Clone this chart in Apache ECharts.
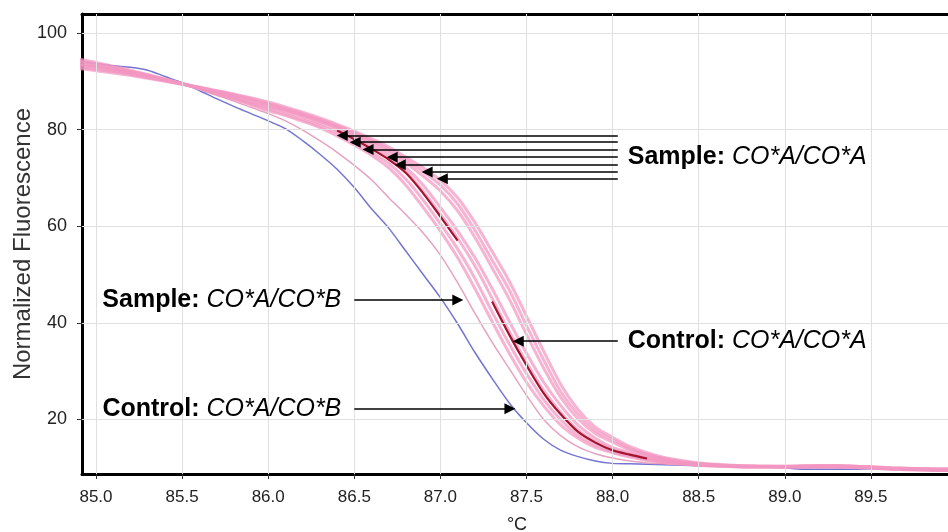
<!DOCTYPE html>
<html>
<head>
<meta charset="utf-8">
<script src="https://cdn.jsdelivr.net/npm/echarts@6/dist/echarts.min.js"></script>
<style>
html,body{margin:0;padding:0;background:#fff;}
#chart{width:948px;height:532px;}
</style>
</head>
<body>
<div id="chart"></div>
<script>
// ---- data ----
var temps = [84.9,85.0,85.1,85.2,85.3,85.4,85.5,85.6,85.7,85.8,85.9,86.0,86.1,86.2,86.3,86.4,86.5,86.6,86.7,86.8,86.9,87.0,87.1,87.2,87.3,87.4,87.5,87.6,87.7,87.8,87.9,88.0,88.1,88.2,88.3,88.4,88.5,88.6,88.7,88.8,88.9,89.0,89.1,89.2,89.3,89.4,89.5,89.6,89.7,89.8,89.9,90.0];

// Control CO*A/CO*B (blue)
var controlAB = [94.1,93.7,93.2,92.9,92.3,91.0,89.7,88.1,86.4,84.8,83.3,81.8,80.2,77.7,74.9,71.8,68.0,63.6,59.6,54.8,50.0,45.2,39.8,33.9,28.5,23.4,19.3,15.9,13.6,12.3,11.4,10.9,10.8,10.7,10.6,10.5,10.4,10.3,10.2,10.1,10.1,10.0,9.7,9.7,9.7,9.7,9.8,9.7,9.6,9.5,9.4,9.3];

// Sample CO*A/CO*B (thin light pink)
var sampleAB = [93.5,93.0,92.4,91.8,91.1,90.3,89.4,88.3,87.1,85.9,84.6,83.3,81.8,79.9,77.7,75.3,72.6,69.6,65.9,62.4,58.6,54.0,48.3,42.0,36.0,30.5,25.0,20.0,16.6,14.3,12.9,12.0,11.4,11.0,10.8,10.6,10.5,10.4,10.3,10.2,10.2,10.2,10.2,10.2,10.2,10.1,10.0,9.8,9.7,9.6,9.5,9.5];

// Sample CO*A/CO*A (seven pink curves)
var sampleAA1 = [94.6,93.9,93.1,92.3,91.4,90.5,89.5,88.5,87.4,86.3,85.1,83.9,82.9,81.7,80.4,78.7,76.8,74.7,72.1,68.5,63.9,59.0,53.5,47.1,40.3,33.7,27.7,22.8,18.8,16.1,14.2,13.1,12.2,11.5,11.1,10.8,10.5,10.3,10.2,10.1,10.1,10.1,10.1,10.1,10.1,10.0,9.9,9.7,9.6,9.5,9.4,9.4];
var sampleAA2 = [94.3,93.6,92.9,92.1,91.3,90.4,89.5,88.5,87.5,86.4,85.3,84.2,83.2,82.0,80.8,79.3,77.4,75.3,73.0,69.7,65.4,60.5,55.3,49.2,42.3,35.6,29.5,24.1,19.9,16.7,14.7,13.3,12.5,11.7,11.2,10.8,10.5,10.4,10.3,10.2,10.2,10.2,10.2,10.2,10.2,10.1,10.0,9.8,9.7,9.6,9.5,9.5];
var sampleAA3 = [94.0,93.4,92.7,92.0,91.2,90.4,89.5,88.6,87.6,86.6,85.6,84.6,83.7,82.5,81.3,79.9,78.2,76.2,74.0,71.3,67.2,62.5,57.5,51.8,45.1,38.2,31.8,26.0,21.4,17.8,15.4,13.8,12.8,12.0,11.4,11.0,10.7,10.5,10.3,10.2,10.2,10.2,10.2,10.3,10.3,10.2,10.1,9.9,9.8,9.7,9.6,9.5];
var sampleAA4 = [93.6,93.1,92.5,91.8,91.1,90.3,89.5,88.6,87.7,86.8,85.8,84.9,84.0,82.9,81.7,80.4,78.7,76.8,74.7,72.1,68.5,63.9,59.0,53.5,47.1,40.3,33.7,27.7,22.8,18.8,16.1,14.2,13.1,12.2,11.6,11.1,10.8,10.5,10.4,10.3,10.2,10.2,10.3,10.3,10.3,10.2,10.1,9.9,9.8,9.7,9.6,9.6];
var sampleAA5 = [93.3,92.8,92.2,91.6,90.9,90.2,89.5,88.7,87.9,87.1,86.2,85.2,84.2,83.1,81.9,80.5,79.0,77.3,75.4,73.1,70.4,67.3,63.2,57.7,51.4,44.9,37.6,30.6,24.5,20.1,17.1,15.3,13.7,12.6,11.8,11.2,10.8,10.5,10.4,10.3,10.3,10.2,10.3,10.4,10.4,10.3,10.1,9.9,9.8,9.7,9.7,9.6];
var sampleAA6 = [92.9,92.5,92.0,91.4,90.8,90.1,89.4,88.7,88.0,87.2,86.4,85.4,84.4,83.3,82.1,80.8,79.3,77.7,75.9,73.7,71.3,68.5,64.6,59.2,53.0,46.8,39.4,32.3,25.7,21.0,17.7,15.8,14.0,12.8,11.9,11.3,10.9,10.6,10.4,10.3,10.3,10.3,10.3,10.4,10.4,10.3,10.2,10.0,9.9,9.8,9.7,9.7];
var sampleAA7 = [92.6,92.2,91.7,91.2,90.6,90.0,89.4,88.8,88.1,87.4,86.6,85.7,84.7,83.6,82.4,81.1,79.7,78.1,76.4,74.3,72.1,69.5,65.9,60.8,54.8,48.6,41.4,34.1,27.2,22.0,18.4,16.3,14.4,13.1,12.1,11.5,11.0,10.7,10.5,10.4,10.3,10.3,10.4,10.4,10.4,10.3,10.2,10.0,9.9,9.8,9.8,9.7];

// Control CO*A/CO*A (dark red, visible part only)
var controlAA = [null,null,null,null,null,null,null,null,null,null,null,null,null,null,null,79.8,78.0,76.0,73.8,71.0,66.8,62.0,57.0,null,44.4,37.5,31.2,25.4,21.0,17.4,15.2,13.6,12.7,11.9,null,null,null,null,null,null,null,null,null,null,null,null,null,null,null,null,null,null];

// Tick values
var xTicks = [85.0,85.5,86.0,86.5,87.0,87.5,88.0,88.5,89.0,89.5];
var yTicks = [20,40,60,80,100];

// Annotation arrows: [start temp, tip temp, level]
var arrowsAA = [[88.03,86.40,78.8],[88.03,86.475,77.4],[88.03,86.55,75.9],[88.03,86.69,74.3],[88.03,86.737,72.7],[88.03,86.893,71.2],[88.03,86.981,69.8]];
var arrowSampleAB = [86.50,87.131,44.7];
var arrowControlAA = [88.03,87.422,36.2];
var arrowControlAB = [86.50,87.434,22.2];

// ---- chart ----
function pairs(vals){ return temps.map(function(t,i){ return [t, vals[i]]; }); }
var FONT = '"Liberation Sans", Arial, sans-serif';
var tipOff = 0.03;
var LBL = 25;
var XMIN = 84.9187, XMAX = 89.971, YMIN = 8.7, YMAX = 103.93;
function arrowLine(a, labelText){
  var dir = a[1] < a[0] ? 1 : -1;
  var item = [{coord:[a[0],a[2]]},{coord:[a[1]+dir*tipOff,a[2]]}];
  if(labelText){
    item[0].label = {show:true, position:'start', distance: dir > 0 ? 10 : 13, formatter: labelText, color:'#000',
      fontFamily: FONT, fontSize: LBL,
      rich:{ b:{fontWeight:'bold', fontSize:LBL, fontFamily:FONT, color:'#000'}, i:{fontStyle:'italic', fontSize:LBL, fontFamily:FONT, color:'#000'} } };
  } else {
    item[0].label = {show:false};
  }
  return item;
}
var arrowData = [];
arrowsAA.forEach(function(a, i){ arrowData.push(arrowLine(a, i===3 ? '{b|Sample:} {i|CO*A/CO*A}' : null)); });
arrowData.push(arrowLine(arrowSampleAB, '{b|Sample:} {i|CO*A/CO*B}'));
arrowData.push(arrowLine(arrowControlAA, '{b|Control:} {i|CO*A/CO*A}'));
arrowData.push(arrowLine(arrowControlAB, '{b|Control:} {i|CO*A/CO*B}'));

var gridData = [];
xTicks.forEach(function(v){ gridData.push({xAxis:v}); });
yTicks.forEach(function(v){ gridData.push({yAxis:v}); });

var pinkThick = {color:'rgba(243,150,192,0.72)', width:3};
function pinkSeries(vals){
  return {type:'line', data:pairs(vals), showSymbol:false, smooth:0.3, lineStyle:pinkThick, z:3, silent:true};
}
var axisBlack = {show:true, onZero:false, lineStyle:{color:'#000', width:3}};

var chart = echarts.init(document.getElementById('chart'), null, {renderer:'canvas'});
chart.setOption({
  animation:false,
  backgroundColor:'#fff',
  grid:{left:82, right:-4, top:14, bottom:58, outerBoundsMode:'none', containLabel:false, show:false},
  xAxis:[{type:'value', min:XMIN, max:XMAX, position:'bottom',
    name:'°C', nameLocation:'middle', nameGap:42, nameMoveOverlap:false, nameTextStyle:{fontFamily:FONT, fontSize:18, color:'#222'},
    axisLine:axisBlack, splitLine:{show:false},
    axisTick:{show:true, customValues:xTicks, length:5, lineStyle:{color:'#333'}},
    axisLabel:{customValues:xTicks, formatter:function(v){return v.toFixed(1);}, fontFamily:FONT, fontSize:17, color:'#222', margin:15}
  },{type:'value', min:XMIN, max:XMAX, position:'top',
    axisLine:axisBlack, axisTick:{show:false}, axisLabel:{show:false}, splitLine:{show:false}
  }],
  yAxis:{type:'value', min:YMIN, max:YMAX,
    name:'Normalized Fluorescence', nameLocation:'middle', nameGap:47, nameMoveOverlap:false, nameTextStyle:{fontFamily:FONT, fontSize:24, color:'#333'},
    axisLine:axisBlack, splitLine:{show:false},
    axisTick:{show:true, customValues:yTicks, length:5, lineStyle:{color:'#333'}},
    axisLabel:{customValues:yTicks, fontFamily:FONT, fontSize:18, color:'#222', margin:15}
  },
  series:[
    {type:'line', data:[], silent:true, z:1,
      markLine:{silent:true, symbol:['none','none'], label:{show:false}, lineStyle:{color:'#e0e0e0', width:1, type:'solid'}, animation:false, data:gridData}},
    {type:'line', data:pairs(controlAB), showSymbol:false, smooth:0.3, lineStyle:{color:'#7474d2', width:1.5}, z:2, silent:true},
    {type:'line', data:pairs(sampleAB), showSymbol:false, smooth:0.3, lineStyle:{color:'#e6a2c0', width:1.5}, z:3, silent:true},
    pinkSeries(sampleAA1), pinkSeries(sampleAA2), pinkSeries(sampleAA3), pinkSeries(sampleAA4),
    pinkSeries(sampleAA5), pinkSeries(sampleAA6), pinkSeries(sampleAA7),
    {type:'line', data:pairs(controlAA), showSymbol:false, smooth:0.3, connectNulls:false, lineStyle:{color:'#a3142e', width:2.2}, z:4, silent:true},
    {type:'line', data:[], silent:true, z:5,
      markLine:{silent:true, symbol:['none','triangle'], symbolSize:11, animation:false,
        lineStyle:{color:'#000', width:1.5, type:'solid'}, itemStyle:{color:'#000'},
        data:arrowData}}
  ]
});
</script>
</body>
</html>
